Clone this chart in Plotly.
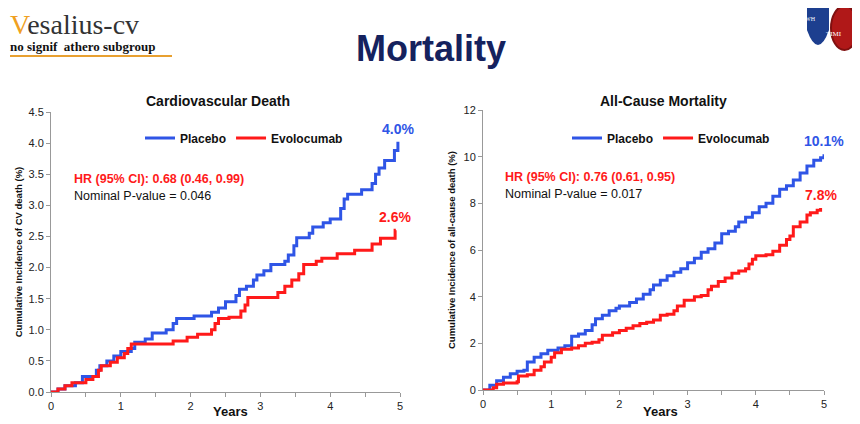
import plotly.graph_objects as go

cv_pl_t = [0,0.1,0.2,0.35,0.45,0.65,0.7,0.8,0.9,1.0,1.15,1.2,1.35,1.45,1.65,1.75,1.8,2.05,2.3,2.4,2.5,2.65,2.7,2.8,2.9,2.95,3.05,3.15,3.35,3.4,3.48,3.52,3.7,3.75,3.9,4.0,4.15,4.2,4.25,4.45,4.6,4.65,4.7,4.78,4.92,4.97]
cv_pl_v = [0,0.05,0.1,0.15,0.25,0.35,0.42,0.5,0.58,0.65,0.7,0.8,0.85,0.95,1.0,1.1,1.18,1.22,1.28,1.35,1.45,1.55,1.65,1.7,1.8,1.88,1.95,2.05,2.1,2.2,2.35,2.48,2.55,2.65,2.72,2.78,2.95,3.1,3.18,3.25,3.35,3.5,3.6,3.72,3.88,4.02]
cv_ev_t = [0,0.1,0.2,0.3,0.5,0.6,0.68,0.72,0.85,0.95,1.05,1.1,1.15,1.75,1.95,2.1,2.3,2.35,2.4,2.55,2.72,2.78,2.82,3.25,3.35,3.45,3.55,3.62,3.8,3.88,4.1,4.35,4.6,4.72,4.93,4.94]
cv_ev_v = [0,0.05,0.1,0.15,0.2,0.25,0.35,0.42,0.48,0.55,0.62,0.7,0.77,0.82,0.88,0.93,1.0,1.1,1.18,1.2,1.3,1.4,1.52,1.6,1.7,1.8,1.9,2.05,2.1,2.15,2.22,2.28,2.38,2.47,2.6,2.6]

ac_pl_t = [0,0.1,0.2,0.3,0.4,0.5,0.6,0.65,0.75,0.85,0.95,1.1,1.2,1.3,1.4,1.5,1.6,1.65,1.75,1.85,1.95,2.0,2.15,2.25,2.35,2.45,2.5,2.6,2.7,2.8,2.9,3.0,3.1,3.2,3.3,3.4,3.5,3.6,3.7,3.75,3.85,3.95,4.05,4.15,4.25,4.35,4.45,4.55,4.65,4.75,4.85,4.95,5.0]
ac_pl_v = [0,0.2,0.4,0.55,0.7,0.8,0.85,1.2,1.4,1.55,1.7,1.8,1.9,2.3,2.4,2.55,2.8,3.05,3.2,3.4,3.5,3.6,3.75,3.9,4.1,4.3,4.5,4.7,4.9,5.05,5.2,5.45,5.65,5.9,6.05,6.3,6.7,6.8,7.0,7.2,7.4,7.6,7.85,8.0,8.3,8.6,8.75,9.0,9.3,9.6,9.85,9.95,10.1]
ac_ev_t = [0,0.15,0.2,0.3,0.5,0.52,0.65,0.75,0.85,0.9,1.0,1.05,1.15,1.3,1.4,1.5,1.6,1.7,1.75,1.9,2.0,2.1,2.2,2.3,2.4,2.5,2.6,2.7,2.8,2.85,2.95,3.1,3.2,3.3,3.35,3.45,3.55,3.65,3.75,3.85,3.9,3.95,4.0,4.15,4.25,4.35,4.45,4.5,4.55,4.65,4.75,4.8,4.9,4.95]
ac_ev_v = [0,0.1,0.25,0.3,0.35,0.6,0.65,0.85,1.0,1.2,1.4,1.6,1.75,1.8,1.9,2.0,2.05,2.15,2.35,2.45,2.55,2.65,2.75,2.85,2.9,3.0,3.2,3.25,3.4,3.6,3.85,4.0,4.05,4.3,4.45,4.65,4.8,5.0,5.1,5.2,5.4,5.6,5.75,5.8,5.95,6.2,6.45,6.6,7.0,7.2,7.5,7.6,7.7,7.8]

W, H, OFF = 852, 416, 8
def px(x): return (x - OFF) / W
def py(y): return 1 - (y - OFF) / H

BLUE = "#2f55e6"
RED = "#ff1a1a"
fig = go.Figure()
fig.add_trace(go.Scatter(x=cv_pl_t, y=cv_pl_v, mode="lines", line=dict(color=BLUE, width=3, shape="hv"), name="<b>Placebo</b>", legend="legend", xaxis="x", yaxis="y"))
fig.add_trace(go.Scatter(x=cv_ev_t, y=cv_ev_v, mode="lines", line=dict(color=RED, width=3, shape="hv"), name="<b>Evolocumab</b>", legend="legend", xaxis="x", yaxis="y"))
fig.add_trace(go.Scatter(x=ac_pl_t, y=ac_pl_v, mode="lines", line=dict(color=BLUE, width=3, shape="hv"), name="<b>Placebo</b>", legend="legend2", xaxis="x2", yaxis="y2"))
fig.add_trace(go.Scatter(x=ac_ev_t, y=ac_ev_v, mode="lines", line=dict(color=RED, width=3, shape="hv"), name="<b>Evolocumab</b>", legend="legend2", xaxis="x2", yaxis="y2"))

xt = dict(range=[0,5], tickvals=[0,0.5,1,1.5,2,2.5,3,3.5,4,4.5,5], ticktext=["0","","1","","2","","3","","4","","5"],
          ticks="outside", ticklen=4, tickcolor="#999", showline=True, linecolor="#999", showgrid=False, zeroline=False,
          automargin=False, tickfont=dict(size=11, color="#222", family="Arial"))
yt = dict(ticks="outside", ticklen=4, tickcolor="#999", showline=True, linecolor="#999", showgrid=False, zeroline=False,
          automargin=False, tickfont=dict(size=11, color="#222", family="Arial"))
leg = dict(orientation="h", bgcolor="rgba(0,0,0,0)", font=dict(size=12, family="Arial", color="#111"), itemwidth=30, tracegroupgap=0)
fig.update_layout(
    width=W, height=H, margin=dict(l=0, r=0, t=0, b=0, autoexpand=False), plot_bgcolor="white", paper_bgcolor="white",
    font=dict(family="Arial"),
    xaxis=dict(xt, domain=[px(51), px(400)], anchor="y"),
    yaxis=dict(yt, domain=[py(392), py(112)], range=[0,4.5], dtick=0.5, tickformat=".1f", anchor="x",
               title=dict(text="<b>Cumulative Incidence of CV death (%)</b>", font=dict(size=9.5, color="#111"), standoff=4)),
    xaxis2=dict(xt, domain=[px(483), px(824)], anchor="y2"),
    yaxis2=dict(yt, domain=[py(390), py(110)], range=[0,12], dtick=2, anchor="x2",
                title=dict(text="<b>Cumulative Incidence of all-cause death (%)</b>", font=dict(size=9.5, color="#111"), standoff=6)),
    legend=dict(leg, x=px(140), y=py(138), xanchor="left", yanchor="middle"),
    legend2=dict(leg, x=px(567), y=py(138), xanchor="left", yanchor="middle"),
    showlegend=True,
)
ann = [
    dict(x=218, y=101, text="<b>Cardiovascular Death</b>", size=14, color="#111"),
    dict(x=663, y=101, text="<b>All-Cause Mortality</b>", size=14, color="#111"),
    dict(x=431, y=48, text="<b>Mortality</b>", size=36, color="#15225e"),
    dict(x=230, y=411, text="<b>Years</b>", size=13, color="#111"),
    dict(x=660, y=411, text="<b>Years</b>", size=13, color="#111"),
]
for a in ann:
    fig.add_annotation(xref="paper", yref="paper", x=px(a["x"]), y=py(a["y"]), text=a["text"], showarrow=False,
                       font=dict(size=a["size"], color=a["color"], family="Arial"), xanchor="center", yanchor="middle")
txt = [
    ("x", "y", 0.3, 3.42, "<b>HR (95% CI): 0.68 (0.46, 0.99)</b>", RED),
    ("x", "y", 0.3, 3.15, "Nominal P-value = 0.046", "#111"),
    ("x2", "y2", 0.3, 9.15, "<b>HR (95% CI): 0.76 (0.61, 0.95)</b>", RED),
    ("x2", "y2", 0.3, 8.4, "Nominal P-value = 0.017", "#111"),
]
for xr, yr, x, y, t, c in txt:
    fig.add_annotation(xref=xr, yref=yr, x=x, y=y, text=t, showarrow=False, xanchor="left", yanchor="middle",
                       font=dict(size=12.5, color=c, family="Arial"))
ends = [("x", "y", 4.97, 4.02, "<b>4.0%</b>", BLUE), ("x", "y", 4.93, 2.6, "<b>2.6%</b>", RED),
        ("x2", "y2", 5.0, 10.1, "<b>10.1%</b>", BLUE), ("x2", "y2", 4.95, 7.8, "<b>7.8%</b>", RED)]
for xr, yr, x, y, t, c in ends:
    fig.add_annotation(xref=xr, yref=yr, x=x, y=y, text=t, showarrow=False, xanchor="center", yanchor="bottom", yshift=3,
                       font=dict(size=14, color=c, family="Arial"))
# header branding
fig.add_annotation(xref="paper", yref="paper", x=px(9), y=py(8), xanchor="left", yanchor="top", showarrow=False,
                   text="<span style='color:#f0a020'>V</span>esalius-cv", font=dict(size=28, color="#333", family="Liberation Serif"),
                   borderpad=0)
fig.add_annotation(xref="paper", yref="paper", x=px(9), y=py(46), xanchor="left", yanchor="middle", showarrow=False,
                   text="<b>no signif  athero subgroup</b>", font=dict(size=13, color="#111", family="Liberation Serif"), borderpad=0)
fig.add_shape(type="line", xref="paper", yref="paper", x0=px(10), x1=px(172), y0=py(56), y1=py(56), line=dict(color="#e8a030", width=2))
fig.add_shape(type="path", xref="paper", yref="paper",
              path=f"M {px(808)} {py(4)} L {px(828)} {py(4)} L {px(828)} {py(30)} Q {px(818)} {py(58)} {px(808)} {py(30)} Z",
              fillcolor="#1d3f8f", line=dict(color="#1d3f8f"))
fig.add_annotation(xref="paper", yref="paper", x=px(818), y=py(14), text="BWH", showarrow=False, font=dict(size=6, color="white", family="Liberation Serif"))
fig.add_shape(type="circle", xref="paper", yref="paper", x0=px(831), x1=px(858), y0=py(50), y1=py(6), fillcolor="#b01818", line=dict(color="#801010"))
fig.add_annotation(xref="paper", yref="paper", x=px(844), y=py(28), text="TIMI", showarrow=False, font=dict(size=7, color="white", family="Liberation Serif"))
fig.write_html("out.html")
